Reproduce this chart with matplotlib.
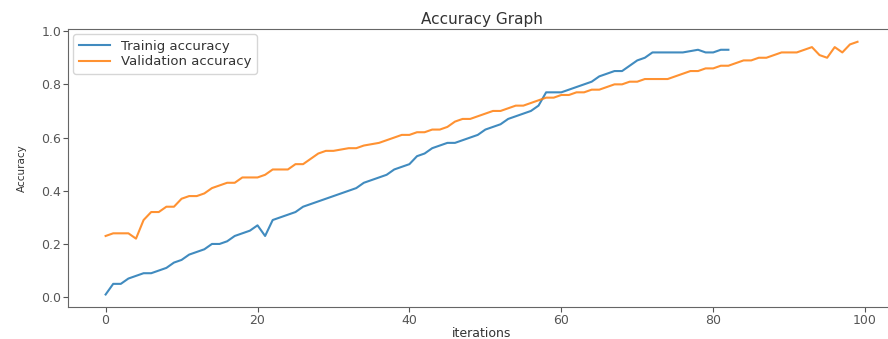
import matplotlib
matplotlib.use("Agg")
import matplotlib.pyplot as plt

train_acc = [0.01, 0.05, 0.05, 0.07, 0.08, 0.09, 0.09, 0.10, 0.11, 0.13,
             0.14, 0.16, 0.17, 0.18, 0.20, 0.20, 0.21, 0.23, 0.24, 0.25,
             0.27, 0.23, 0.29, 0.30, 0.31, 0.32, 0.34, 0.35, 0.36, 0.37,
             0.38, 0.39, 0.40, 0.41, 0.43, 0.44, 0.45, 0.46, 0.48, 0.49,
             0.50, 0.53, 0.54, 0.56, 0.57, 0.58, 0.58, 0.59, 0.60, 0.61,
             0.63, 0.64, 0.65, 0.67, 0.68, 0.69, 0.70, 0.72, 0.77, 0.77,
             0.77, 0.78, 0.79, 0.80, 0.81, 0.83, 0.84, 0.85, 0.85, 0.87,
             0.89, 0.90, 0.92, 0.92, 0.92, 0.92, 0.92, 0.925, 0.93, 0.92,
             0.92, 0.93, 0.93]

val_acc = [0.23, 0.24, 0.24, 0.24, 0.22, 0.29, 0.32, 0.32, 0.34, 0.34,
           0.37, 0.38, 0.38, 0.39, 0.41, 0.42, 0.43, 0.43, 0.45, 0.45,
           0.45, 0.46, 0.48, 0.48, 0.48, 0.50, 0.50, 0.52, 0.54, 0.55,
           0.55, 0.555, 0.56, 0.56, 0.57, 0.575, 0.58, 0.59, 0.60, 0.61,
           0.61, 0.62, 0.62, 0.63, 0.63, 0.64, 0.66, 0.67, 0.67, 0.68,
           0.69, 0.70, 0.70, 0.71, 0.72, 0.72, 0.73, 0.74, 0.75, 0.75,
           0.76, 0.76, 0.77, 0.77, 0.78, 0.78, 0.79, 0.80, 0.80, 0.81,
           0.81, 0.82, 0.82, 0.82, 0.82, 0.83, 0.84, 0.85, 0.85, 0.86,
           0.86, 0.87, 0.87, 0.88, 0.89, 0.89, 0.90, 0.90, 0.91, 0.92,
           0.92, 0.92, 0.93, 0.94, 0.91, 0.90, 0.94, 0.92, 0.95, 0.96]

fig, ax = plt.subplots(figsize=(8.88, 3.39), dpi=100)
# the original image is cropped on the right, so the axes run past the edge
fig.subplots_adjust(left=0.0766, right=1.008, top=0.914, bottom=0.094)

ax.plot(range(len(train_acc)), train_acc, label="Trainig accuracy", alpha=0.85)
ax.plot(range(len(val_acc)), val_acc, label="Validation accuracy", alpha=0.85)

ax.set_title("Accuracy Graph", fontsize=11, pad=4, color="#333333")
ax.set_xlabel("iterations", fontsize=9, labelpad=0, color="#333333")
ax.set_ylabel("Accuracy", fontsize=7.5, labelpad=10, color="#333333")
ax.tick_params(labelsize=9, pad=1.5, colors="#555555")
ax.set_yticks([0.0, 0.2, 0.4, 0.6, 0.8, 1.0])
for sp in ax.spines.values():
    sp.set_color("#666666")
leg = ax.legend(loc="upper left", fontsize=9.5, borderaxespad=0.4,
                handlelength=2.4, labelspacing=0.2)
for t in leg.get_texts():
    t.set_color("#333333")

plt.savefig("out.png")
